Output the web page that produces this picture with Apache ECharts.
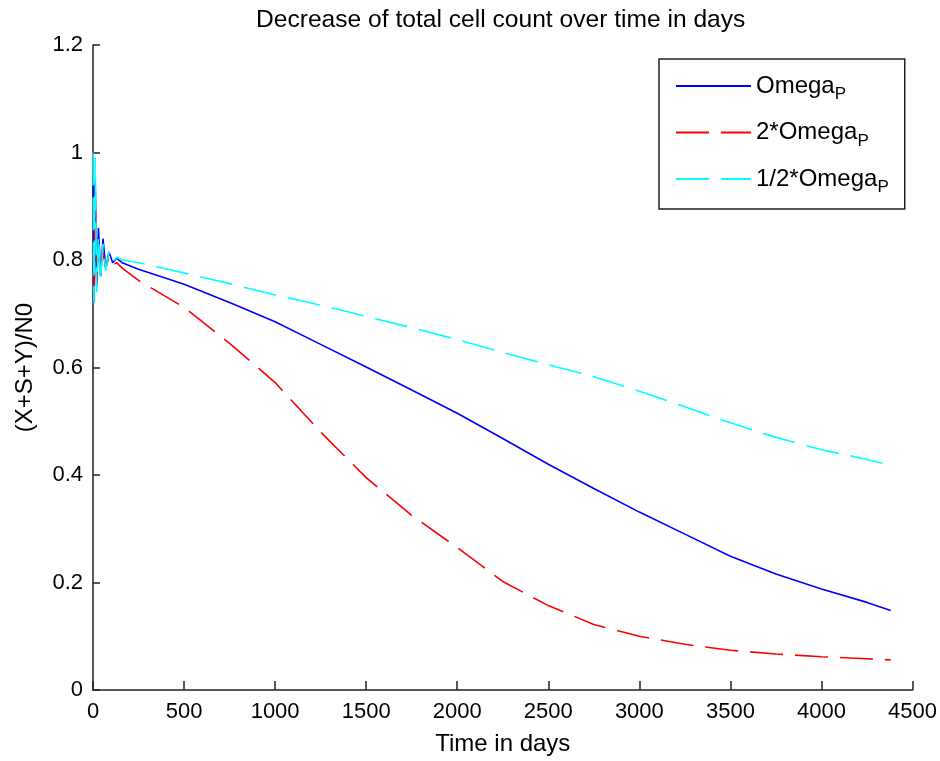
<!DOCTYPE html>
<html>
<head>
<meta charset="utf-8">
<script src="https://cdn.jsdelivr.net/npm/echarts@6/dist/echarts.min.js"></script>
<style>
  html, body { margin: 0; padding: 0; background: #fff; }
  #chart { width: 940px; height: 761px; }
</style>
</head>
<body>
<div id="chart"></div>
<script>
// time points (days)
const days = [0, 5, 12, 20, 30, 42, 55, 70, 88, 108, 130, 160, 250, 500, 750, 1000, 1250, 1500,
  1750, 2000, 2250, 2500, 2750, 3000, 3250, 3500, 3750, 4000, 4250, 4380];

// (X+S+Y)/N0 for each parameter setting
const omegaP = [1.0, 0.72, 0.95, 0.75, 0.86, 0.77, 0.84, 0.785, 0.815, 0.795, 0.803, 0.795, 0.783,
  0.755, 0.721, 0.685, 0.643, 0.601, 0.558, 0.515, 0.468, 0.42, 0.375, 0.331, 0.29, 0.249, 0.216,
  0.188, 0.163, 0.148];
const omegaP2 = [1.0, 0.74, 0.92, 0.76, 0.83, 0.775, 0.815, 0.785, 0.805, 0.79, 0.795, 0.785, 0.762,
  0.712, 0.645, 0.572, 0.48, 0.395, 0.325, 0.265, 0.202, 0.157, 0.122, 0.1, 0.085, 0.074, 0.067,
  0.062, 0.058, 0.056];
const omegaPHalf = [1.0, 0.72, 0.99, 0.74, 0.845, 0.76, 0.83, 0.78, 0.815, 0.795, 0.805, 0.8, 0.795,
  0.776, 0.756, 0.735, 0.716, 0.695, 0.674, 0.652, 0.628, 0.605, 0.583, 0.556, 0.527, 0.497, 0.47,
  0.447, 0.429, 0.418];

const seriesNames = ['Omega', '2*Omega', '1/2*Omega'];
const seriesColors = ['#0000ff', '#ff0000', '#00ffff'];
const dashed = [33, 12];

const FONT = 'Liberation Sans, Arial, sans-serif';

const pairs = (vals) => days.map((d, i) => [d, vals[i]]);

const chart = echarts.init(document.getElementById('chart'), null, { renderer: 'canvas' });

function lineSeries(idx, vals, type) {
  return {
    name: seriesNames[idx], type: 'line', showSymbol: false, symbol: 'none',
    data: pairs(vals),
    lineStyle: { color: seriesColors[idx], width: 1.6, type: type },
    itemStyle: { color: seriesColors[idx] }
  };
}

chart.setOption({
  animation: false,
  backgroundColor: '#fff',
  textStyle: { fontFamily: FONT, color: '#000' },
  title: {
    text: 'Decrease of total cell count over time in days',
    left: 251,
    top: 3,
    textStyle: { fontFamily: FONT, fontSize: 24.6, fontWeight: 'normal', color: '#000' }
  },
  grid: { left: 93, right: 27, top: 45, bottom: 69, containLabel: false },
  legend: {
    orient: 'vertical',
    left: 659,
    top: 59,
    padding: [15, 16, 13, 16],
    itemGap: 17.5,
    itemWidth: 75,
    itemHeight: 20,
    itemTextGap: 10,
    backgroundColor: '#fff',
    borderColor: '#222',
    borderWidth: 1.5,
    borderRadius: 0,
    itemStyle: { opacity: 0 },
    data: seriesNames,
    formatter: (name) => '{m|' + name + '}{s|P}',
    textStyle: {
      fontFamily: FONT,
      rich: {
        m: { fontFamily: FONT, fontSize: 24, color: '#000', lineHeight: 30 },
        s: { fontFamily: FONT, fontSize: 17, color: '#000', padding: [17, 0, 0, 0] }
      }
    }
  },
  xAxis: {
    type: 'value',
    min: 0,
    max: 4500,
    interval: 500,
    name: 'Time in days',
    nameLocation: 'middle',
    nameGap: 42,
    nameTextStyle: { fontFamily: FONT, fontSize: 24, color: '#000' },
    axisLine: { show: true, lineStyle: { color: '#222', width: 1.5 } },
    axisTick: { inside: true, length: 9, lineStyle: { color: '#222', width: 1.5 } },
    axisLabel: { fontFamily: FONT, fontSize: 22, color: '#000', margin: 11, formatter: (v) => String(v) },
    splitLine: { show: false }
  },
  yAxis: {
    type: 'value',
    min: 0,
    max: 1.2,
    interval: 0.2,
    name: '(X+S+Y)/N0',
    nameLocation: 'middle',
    nameRotate: 90,
    nameGap: 56,
    nameTextStyle: { fontFamily: FONT, fontSize: 24, color: '#000' },
    axisLine: { show: true, lineStyle: { color: '#222', width: 1.5 } },
    axisTick: { inside: true, length: 7, lineStyle: { color: '#222', width: 1.5 } },
    axisLabel: { fontFamily: FONT, fontSize: 22, color: '#000', margin: 10 },
    splitLine: { show: false }
  },
  series: [
    lineSeries(0, omegaP, 'solid'),
    lineSeries(1, omegaP2, dashed),
    lineSeries(2, omegaPHalf, dashed)
  ]
});
</script>
</body>
</html>
